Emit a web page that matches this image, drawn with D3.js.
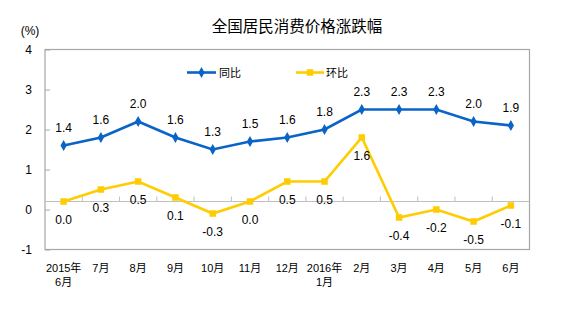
<!DOCTYPE html>
<html><head><meta charset="utf-8">
<script src="https://cdn.jsdelivr.net/npm/d3@7"></script>
<style>html,body{margin:0;padding:0;background:#fff;}svg{display:block;}</style>
</head><body>
<svg id="c" width="564" height="322"></svg>
<script>
const categories = [["2015年","6月"],["7月"],["8月"],["9月"],["10月"],["11月"],["12月"],["2016年","1月"],["2月"],["3月"],["4月"],["5月"],["6月"]];
const yoyValues = [1.4, 1.6, 2.0, 1.6, 1.3, 1.5, 1.6, 1.8, 2.3, 2.3, 2.3, 2.0, 1.9];
const momValues = [0.0, 0.3, 0.5, 0.1, -0.3, 0.0, 0.5, 0.5, 1.6, -0.4, -0.2, -0.5, -0.1];
const yTicks = [-1, 0, 1, 2, 3, 4];
const seriesNames = ["同比", "环比"];
const title = "全国居民消费价格涨跌幅";
const unit = "(%)";

const FONT = "'Liberation Sans', Arial, 'Noto Sans CJK SC', sans-serif";
const BLUE = "#0A64C8", YELLOW = "#FFCC00", FRAME = "#A6A6A6";
const svg = d3.select("#c");
const L = 45, R = 529.5, T = 49.5, B = 249.5;

const x = d3.scaleBand().domain(d3.range(categories.length)).range([L, R]);
// value axis labels
const yAxisScale = d3.scaleLinear().domain([-1, 4]).range([B, T]);
// plotted series sit 0.2 higher than the axis labels in the original
const y = d3.scaleLinear().domain([-1.2, 3.8]).range([B, T]);

// frame
svg.append("rect").attr("x", L).attr("y", T).attr("width", R - L).attr("height", B - T)
  .attr("fill", "none").attr("stroke", FRAME).attr("stroke-width", 1.2);

// y axis ticks (inward)
const ya = svg.append("g").attr("transform", `translate(${L},0)`)
  .call(d3.axisRight(yAxisScale).tickValues(yTicks).tickSize(5).tickFormat(""));
ya.select(".domain").remove();
ya.selectAll("line").attr("stroke", FRAME);
svg.append("g").selectAll("text").data(yTicks).join("text")
  .attr("x", 32).attr("y", d => yAxisScale(d) + 4.5).attr("text-anchor", "end")
  .attr("font-family", FONT).attr("font-size", 12).attr("fill", "#000").text(d => d);

svg.append("text").attr("x", 30).attr("y", 35).attr("text-anchor", "middle")
  .attr("font-family", FONT).attr("font-size", 12).text(unit);

// category line
const y0 = y(0);
svg.append("line").attr("x1", L).attr("x2", R).attr("y1", y0).attr("y2", y0)
  .attr("stroke", "#C0C0C0").attr("stroke-width", 1.2);
svg.append("g").selectAll("line").data(d3.range(1, categories.length)).join("line")
  .attr("x1", i => x(i)).attr("x2", i => x(i)).attr("y1", y0).attr("y2", y0 - 5)
  .attr("stroke", "#C0C0C0").attr("stroke-width", 1);

// category labels
const cl = svg.append("g").selectAll("text").data(categories).join("text")
  .attr("text-anchor", "middle").attr("font-family", FONT).attr("font-size", 11).attr("fill", "#000");
cl.each(function(d, i) {
  const t = d3.select(this);
  d.forEach((s, k) => t.append("tspan").attr("x", x(i) + x.bandwidth() / 2).attr("y", 271.5 + k * 14).text(s));
});

const cx = i => x(i) + x.bandwidth() / 2;
const line = d3.line().x((d, i) => cx(i)).y(d => y(d));

// series
svg.append("path").datum(momValues).attr("d", line).attr("fill", "none")
  .attr("stroke", YELLOW).attr("stroke-width", 2.6);
svg.append("path").datum(yoyValues).attr("d", line).attr("fill", "none")
  .attr("stroke", BLUE).attr("stroke-width", 2.6);

const sq = 6.5;
svg.append("g").selectAll("rect").data(momValues).join("rect")
  .attr("x", (d, i) => cx(i) - sq / 2).attr("y", d => y(d) - sq / 2)
  .attr("width", sq).attr("height", sq).attr("fill", YELLOW);
const diamond = d3.symbol().type(d3.symbolDiamond).size(34);
svg.append("g").selectAll("path").data(yoyValues).join("path")
  .attr("transform", (d, i) => `translate(${cx(i)},${y(d)})`).attr("d", diamond).attr("fill", BLUE);

// value labels
svg.append("g").selectAll("text").data(yoyValues).join("text")
  .attr("x", (d, i) => cx(i)).attr("y", d => y(d) - 14).attr("text-anchor", "middle")
  .attr("font-family", FONT).attr("font-size", 12).attr("fill", "#000").text(d => d.toFixed(1));
svg.append("g").selectAll("text").data(momValues).join("text")
  .attr("x", (d, i) => cx(i)).attr("y", d => y(d) + 22).attr("text-anchor", "middle")
  .attr("font-family", FONT).attr("font-size", 12).attr("fill", "#000").text(d => d.toFixed(1));

// legend
const leg = [{name: seriesNames[0], c: BLUE, x1: 187, x2: 216, tx: 219, m: "d"},
             {name: seriesNames[1], c: YELLOW, x1: 296, x2: 324, tx: 326, m: "s"}];
const ly = 72.5;
leg.forEach(l => {
  svg.append("line").attr("x1", l.x1).attr("x2", l.x2).attr("y1", ly).attr("y2", ly)
    .attr("stroke", l.c).attr("stroke-width", 2.6);
  const mx = (l.x1 + l.x2) / 2;
  if (l.m === "d") svg.append("path").attr("transform", `translate(${mx},${ly})`).attr("d", diamond).attr("fill", l.c);
  else svg.append("rect").attr("x", mx - sq / 2).attr("y", ly - sq / 2).attr("width", sq).attr("height", sq).attr("fill", l.c);
  svg.append("text").attr("x", l.tx).attr("y", ly + 4).attr("font-family", FONT).attr("font-size", 11).text(l.name);
});

// title
svg.append("text").attr("x", 297).attr("y", 31.5).attr("text-anchor", "middle")
  .attr("font-family", FONT).attr("font-size", 15.5).attr("fill", "#000").text(title);
</script>
</body></html>
